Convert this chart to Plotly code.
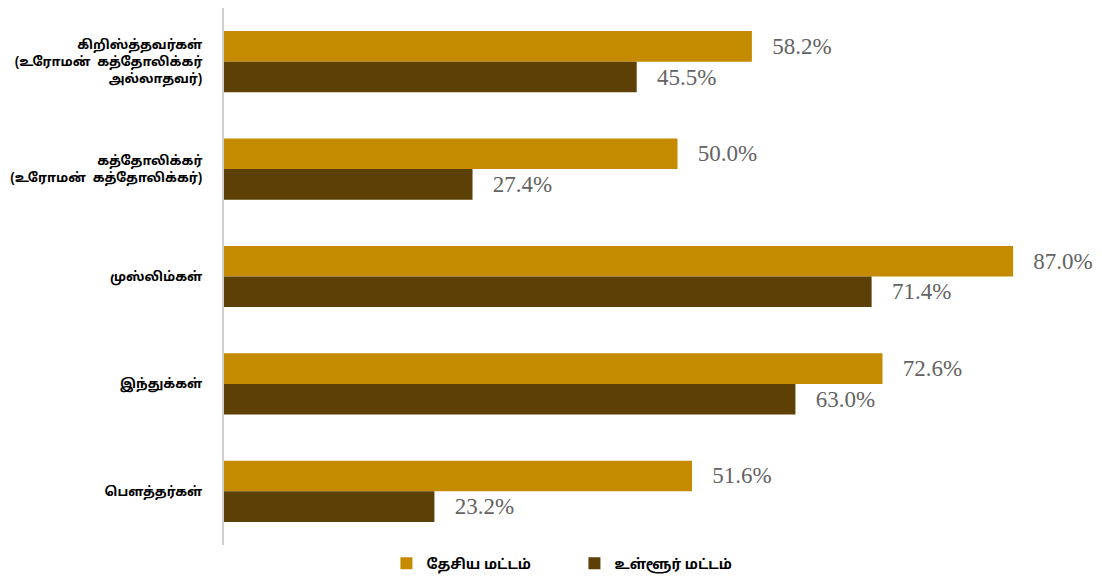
import plotly.graph_objects as go

GOLD = "#c48a00"
BROWN = "#5c4005"
AXIS = "#cfcfcf"
VALUE_GREY = "#636363"

categories = [
    "கிறிஸ்த்தவர்கள்<br>(உரோமன்  கத்தோலிக்கர்<br>அல்லாதவர்)",
    "கத்தோலிக்கர்<br>(உரோமன்  கத்தோலிக்கர்)",
    "முஸ்லிம்கள்",
    "இந்துக்கள்",
    "பௌத்தர்கள்",
]
national = [58.2, 50.0, 87.0, 72.6, 51.6]
local = [45.5, 27.4, 71.4, 63.0, 23.2]
series_names = ["தேசிய மட்டம்", "உள்ளூர் மட்டம்"]

PAD = "\u00a0" * 3

fig = go.Figure()
for name, vals, col in [(series_names[0], national, GOLD), (series_names[1], local, BROWN)]:
    fig.add_trace(go.Bar(
        y=categories, x=vals, name=name, orientation="h",
        marker=dict(color=col, line=dict(width=0)),
        text=[f"{PAD}{v:.1f}%" for v in vals],
        textposition="outside",
        textfont=dict(family="Liberation Serif, Times New Roman, serif", size=23, color=VALUE_GREY),
        cliponaxis=False,
    ))

# page body adds ~8px offset, so the figure is sized a bit smaller
fig.update_layout(
    barmode="group",
    bargap=0.43,
    bargroupgap=0,
    width=1094, height=572,
    paper_bgcolor="white", plot_bgcolor="white",
    margin=dict(l=216, r=0, t=0, b=35, autoexpand=False),
    font=dict(family="Noto Sans Tamil, Noto Sans, sans-serif", color="black"),
    legend=dict(
        orientation="h", x=0.185, xanchor="left", y=-0.005, yanchor="top",
        font=dict(size=14, color="black", weight="bold"),
        entrywidth=143, entrywidthmode="pixels",
        traceorder="normal",
    ),
)
fig.update_xaxes(range=[0, 96.8], showgrid=False, zeroline=False, showticklabels=False,
                 showline=False, ticks="")
fig.update_yaxes(autorange="reversed", showline=True, linecolor=AXIS, linewidth=2,
                 ticks="", ticklabelstandoff=17, automargin=False,
                 ticklabeloverflow="allow",
                 tickfont=dict(size=13, color="black", weight="bold"))

fig.write_html("out.html")
